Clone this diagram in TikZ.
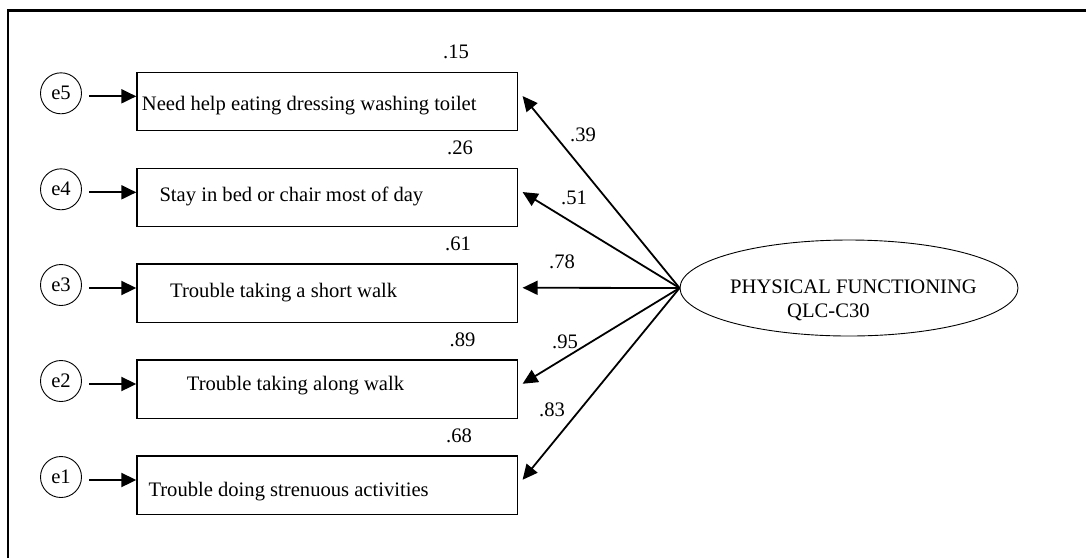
\documentclass[tikz,border=0pt]{standalone}
\usepackage{fontspec}
\setmainfont{Liberation Serif}
\usepackage{tikz}
\usetikzlibrary{shapes.geometric, arrows.meta, positioning, calc}

\tikzset{
  itembox/.style={draw, line width=1.3pt, minimum width=380.5pt, minimum height=58.5pt, inner sep=0pt},
  errnode/.style={draw, circle, line width=0.9pt, minimum size=41pt, inner sep=0pt},
  pfnode/.style={draw, ellipse, line width=0.9pt, minimum width=338pt, minimum height=96pt, inner sep=0pt},
  errarrow/.style={line width=2pt, -{Triangle[length=15pt,width=14pt]}, shorten <=7.5pt},
  loadarrow/.style={line width=1.8pt, -{Triangle[length=15pt,width=14pt]}},
}

\begin{document}
\begin{tikzpicture}[x=1pt, y=-1pt, font=\fontsize{20.6}{24}\selectfont]
  \useasboundingbox (0,0) rectangle (1086,558);
  \draw[line width=2.3pt] (8,558) -- (8,10.5) -- (1086,10.5);
  \node[pfnode] (pf) at (849,288) {};
  \node[anchor=west, align=left, inner sep=0pt] (pftxt) at (730,300)
    {PHYSICAL FUNCTIONING\\\hspace*{57pt}QLC-C30};
  \foreach \n/\yt/\xt/\yb/\itemtxt/\rx/\rsq/\lx/\ly/\ld in {
      5/72.3/141.7/110.5/Need help eating dressing washing toilet/456/.15/583/135/.39,
      4/168.3/159.3/201.5/Stay in bed or chair most of day/460/.26/574/198/.51,
      3/264/170/297/Trouble taking a short walk/458/.61/562/262/.78,
      2/360/186.7/390/Trouble taking along walk/462.5/.89/565/342/.95,
      1/456/148.3/496.7/Trouble doing strenuous activities/459/.68/552/410/.83} {
    \node[itembox] (b\n) at (327.2,\yt+29.25) {};
    \node[anchor=base west, inner sep=0pt] (txt\n) at (\xt,\yb) {\itemtxt};
    \node[errnode] (e\n) at (61,\yt+21) {e\n};
    \draw[errarrow] ([yshift=-3pt]e\n.east) -- ([yshift=-3pt]e\n.east -| b\n.west);
    \node (r\n) at (\rx,\yt-20) {\rsq};
    \coordinate (t\n) at ([xshift=4.5pt,yshift=5.5pt]b\n.east);
    \draw[loadarrow] (pf.west) -- (t\n);
    \node (l\n) at (\lx,\ly) {\ld};
  }
\end{tikzpicture}
\end{document}
